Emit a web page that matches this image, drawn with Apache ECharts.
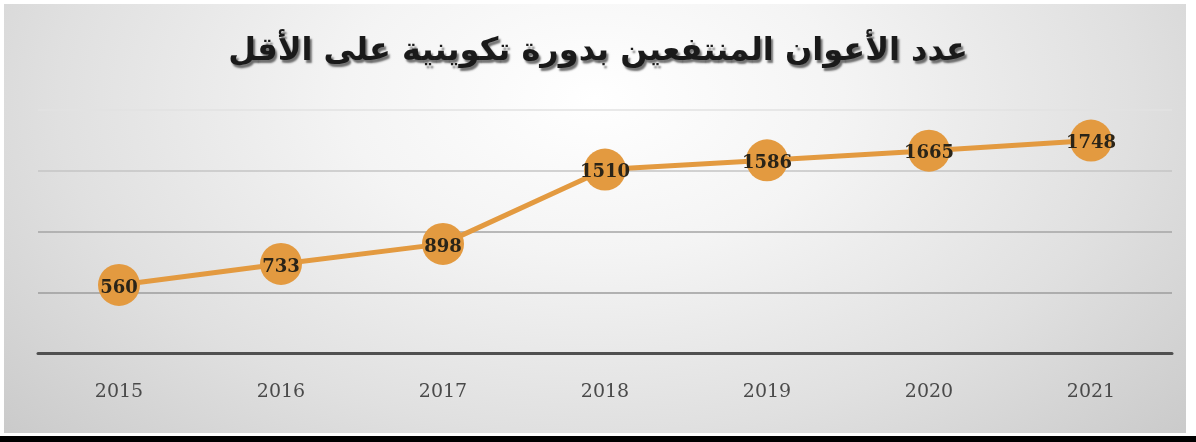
<!DOCTYPE html>
<html>
<head>
<meta charset="utf-8">
<script src="https://cdn.jsdelivr.net/npm/echarts@6/dist/echarts.min.js"></script>
<style>
html,body{margin:0;padding:0;width:1196px;height:442px;background:#fff;overflow:hidden;}
#bg{position:absolute;left:4px;top:4px;width:1182px;height:429px;
background:radial-gradient(ellipse 70% 120% at 50% 22%, #ffffff 0%, #f4f4f4 30%, #e0e0e0 65%, #c8c8c8 100%);}
#bar{position:absolute;left:0;top:436px;width:1196px;height:6px;background:#000;}
#chart{position:absolute;left:0;top:0;width:1196px;height:442px;}
</style>
</head>
<body>
<div id="bg"></div>
<div id="bar"></div>
<div id="chart"></div>
<script>
const titleText = 'عدد الأعوان المنتفعين بدورة تكوينية على الأقل';
const categories = ['2015', '2016', '2017', '2018', '2019', '2020', '2021'];
const values = [560, 733, 898, 1510, 1586, 1665, 1748];

const chart = echarts.init(document.getElementById('chart'));
chart.setOption({
  backgroundColor: 'transparent',
  animation: false,
  title: {
    text: titleText,
    left: 'center',
    top: 31,
    textStyle: {
      fontFamily: 'DejaVu Sans',
      fontWeight: 'bold',
      fontSize: 32,
      color: '#1a1a1a',
      textShadowColor: 'rgba(0,0,0,0.55)',
      textShadowOffsetX: 2,
      textShadowOffsetY: 3,
      textShadowBlur: 2
    }
  },
  grid: { left: 38, right: 24, top: 110, bottom: 89 },
  xAxis: {
    type: 'category',
    data: categories,
    boundaryGap: true,
    axisLine: { lineStyle: { color: '#505050', width: 3 } },
    axisTick: { show: false },
    axisLabel: {
      margin: 30,
      fontFamily: 'DejaVu Serif',
      fontSize: 19,
      color: '#4a4a4a'
    }
  },
  yAxis: {
    type: 'value',
    min: 0,
    max: 2000,
    interval: 500,
    axisLine: { show: false },
    axisTick: { show: false },
    axisLabel: { show: false },
    splitLine: { lineStyle: { color: ['#a0a0a0', '#9c9c9c', '#a4a4a4', '#c4c4c4', '#e2e2e2'], width: 1.5 } }
  },
  series: [{
    type: 'line',
    data: values,
    symbol: 'circle',
    symbolSize: 42,
    itemStyle: { color: '#E39A40' },
    lineStyle: { color: '#E39A40', width: 5 },
    label: {
      show: true,
      position: 'inside',
      offset: [0, 3],
      fontFamily: 'DejaVu Serif',
      fontWeight: 'bold',
      fontSize: 18,
      color: '#2a2418'
    }
  }]
});
</script>
</body>
</html>
